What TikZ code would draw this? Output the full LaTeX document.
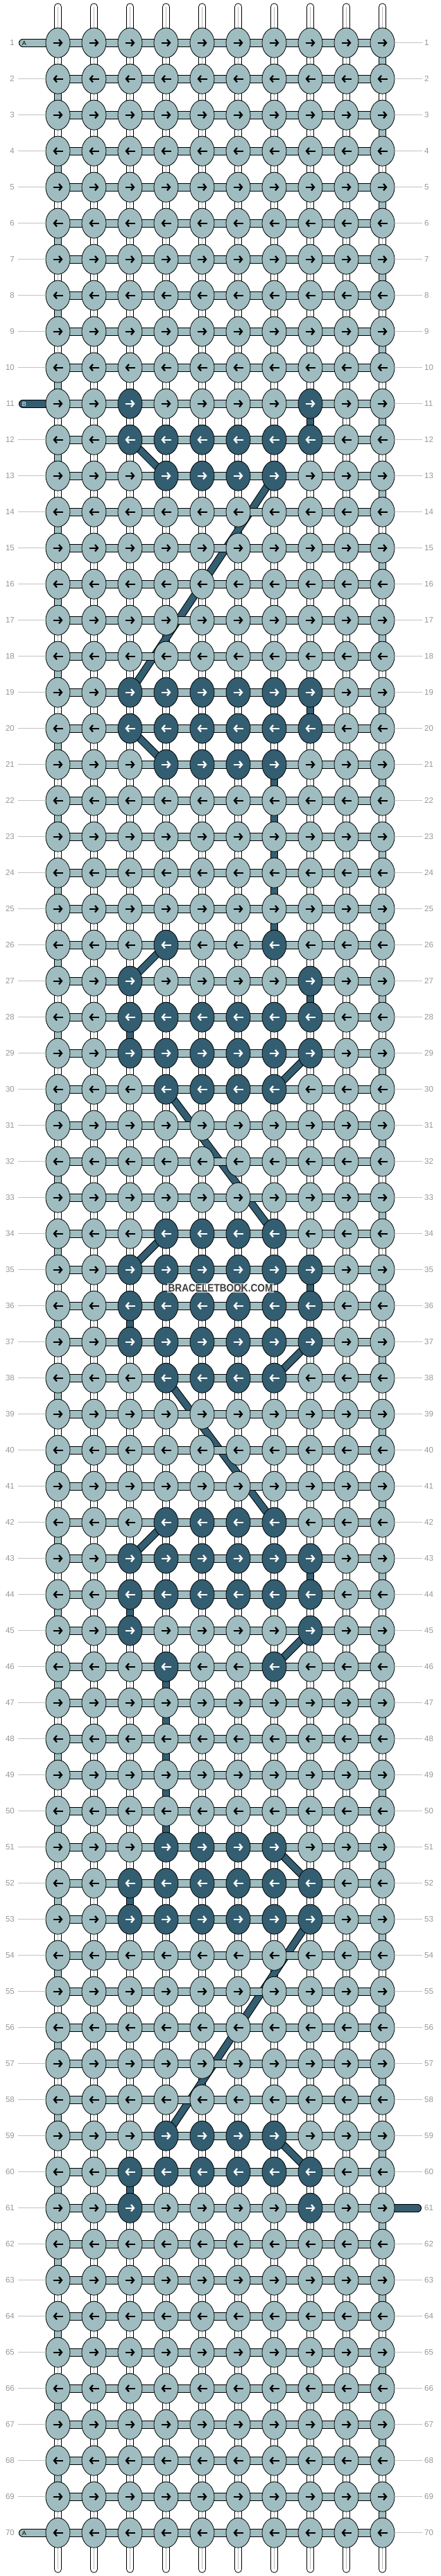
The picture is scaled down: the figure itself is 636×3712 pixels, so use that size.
\documentclass[tikz,border=0pt]{standalone}
\usepackage{fontspec}
\setmainfont{Liberation Sans}
\usetikzlibrary{arrows.meta,shapes.geometric}
\definecolor{ca}{RGB}{159,189,192}
\definecolor{cb}{RGB}{51,93,112}
\definecolor{numgray}{RGB}{150,150,150}
\definecolor{linegray}{RGB}{195,195,195}
\definecolor{tubegray}{RGB}{185,185,185}
\definecolor{wmgray}{RGB}{60,60,60}
\newcommand\mkdark[2]{\foreach \rr in {#1}{\foreach \cc in {#2}{\expandafter\xdef\csname dk@\rr @\cc\endcsname{}}}}
\tikzset{
  knot/.style={ellipse, draw=black, line width=0.8pt, minimum width=35pt, minimum height=43pt, inner sep=0pt},
  arr/.style={line width=2.3pt, -{Straight Barb[length=4pt,width=9.5pt]}},
  tube/.style={line width=1pt, double=white, double distance=9pt, line cap=round},
  barA/.style={line width=1pt, double=ca, double distance=10pt},
  barB/.style={line width=1pt, double=cb, double distance=10pt},
  segA/.style={line width=1pt, double=ca, double distance=9pt},
  segB/.style={line width=1pt, double=cb, double distance=9pt},
  diagB/.style={line width=1pt, double=cb, double distance=9pt},
  num/.style={text=numgray, font=\fontsize{11.5}{12}\selectfont, inner sep=0pt},
  tick/.style={draw=linegray, line width=1pt},
  endlab/.style={font=\fontsize{9}{9}\selectfont, inner sep=0pt}
}
\begin{document}
\begin{tikzpicture}[x=1pt,y=-1pt]
\useasboundingbox (0,0) rectangle (636,3712);
\mkdark{12,19,20,28,29,35,36,37,43,44,52,53,60}{2,...,7}
\mkdark{13,21,30,34,38,42,51,59}{3,...,6}
\mkdark{11,27,45,61}{2,7}
\mkdark{26,46}{3,6}
% coordinates
\foreach \r in {1,...,70}{
  \foreach \c in {0,...,9}{
    \coordinate (p\r-\c) at ({83.5+52*\c},{9.7+52*\r});
  }
}
% vertical strings
\foreach \c in {0,...,9}{
  \coordinate (t\c) at ({83.5+52*\c},10);
  \coordinate (b\c) at ({83.5+52*\c},3702);
  \draw[tube] (t\c) -- (b\c);
  \draw[tubegray, line width=0.7pt] (t\c) -- (b\c);
}
% edge turns of thread A
\foreach \r [evaluate=\r as \n using int(\r+1)] in {1,3,...,69}{
  \draw[segA] (p\r-9) -- (p\n-9);
}
\foreach \r [evaluate=\r as \n using int(\r+1)] in {2,4,...,68}{
  \draw[segA] (p\r-0) -- (p\n-0);
}
% vertical segments of thread B
\foreach \c/\a/\b in {7/11/12, 7/19/20, 6/21/26, 7/27/28, 2/28/29, 7/35/36, 2/36/37, 7/43/44, 2/44/45, 3/46/51, 2/52/53, 2/60/61}{
  \draw[segB] (p\a-\c) -- (p\b-\c);
}
% diagonals of thread B
\foreach \a/\b in {12-2/13-3, 13-6/19-2, 20-2/21-3, 26-3/27-2, 29-7/30-6, 30-3/34-6, 34-3/35-2, 37-7/38-6, 38-3/42-6, 42-3/43-2, 45-7/46-6, 51-6/52-7, 53-7/59-3, 59-6/60-7}{
  \draw[diagB] (p\a) -- (p\b);
}
% horizontal threads
\foreach \r in {1,...,70}{
  \draw[barA] (p\r-0) -- (p\r-9);
}
% end pieces
\coordinate (eA1) at (33,61.7);
\coordinate (eA70) at (33,3649.7);
\coordinate (eB11) at (33,581.7);
\coordinate (eB61) at (602,3181.7);
\draw[barA, line cap=round] (eA1) -- (p1-0);
\draw[barA, line cap=round] (eA70) -- (p70-0);
\draw[barB, line cap=round] (eB11) -- (p11-0);
\draw[barB, line cap=round] (eB61) -- (p61-9);
% knots
\foreach \r in {1,...,70}{
  \foreach \c in {0,...,9}{
    \ifcsname dk@\r @\c\endcsname
      \def\kf{cb}\def\ac{white}
    \else
      \def\kf{ca}\def\ac{black}
    \fi
    \node[knot, fill=\kf] (k\r-\c) at (p\r-\c) {};
    \ifodd\r\relax
      \draw[arr, draw=\ac] ([xshift=-7pt]k\r-\c.center) -- ([xshift=7pt]k\r-\c.center);
    \else
      \draw[arr, draw=\ac] ([xshift=7pt]k\r-\c.center) -- ([xshift=-7pt]k\r-\c.center);
    \fi
  }
}
% labels on end pieces
\node[endlab, text=black] (labA1) at (35,62) {A};
\node[endlab, text=black] (labA70) at (35,3650) {A};
\node[endlab, text=white] (labB11) at (35,582) {B};
% row ticks and numbers
\foreach \r in {2,...,10,12,13,...,69}{
  \draw[tick] (k\r-0.west) -- ++(-40,0);
}
\foreach \r in {1,...,60,62,63,...,70}{
  \draw[tick] (k\r-9.east) -- ++(40,0);
}
\foreach \r in {1,...,70}{
  \node[num, anchor=east] (ln\r) at (21,{9.7+52*\r}) {\r};
  \node[num, anchor=west] (rn\r) at (612,{9.7+52*\r}) {\r};
}
% watermark
\node[fill=white, fill opacity=0.55, text opacity=1, text=wmgray, inner sep=1.5pt,
      font=\bfseries\fontsize{15.5}{16}\selectfont, xscale=0.88] (wm) at (318,1856) {BRACELETBOOK.COM};
\end{tikzpicture}
\end{document}
